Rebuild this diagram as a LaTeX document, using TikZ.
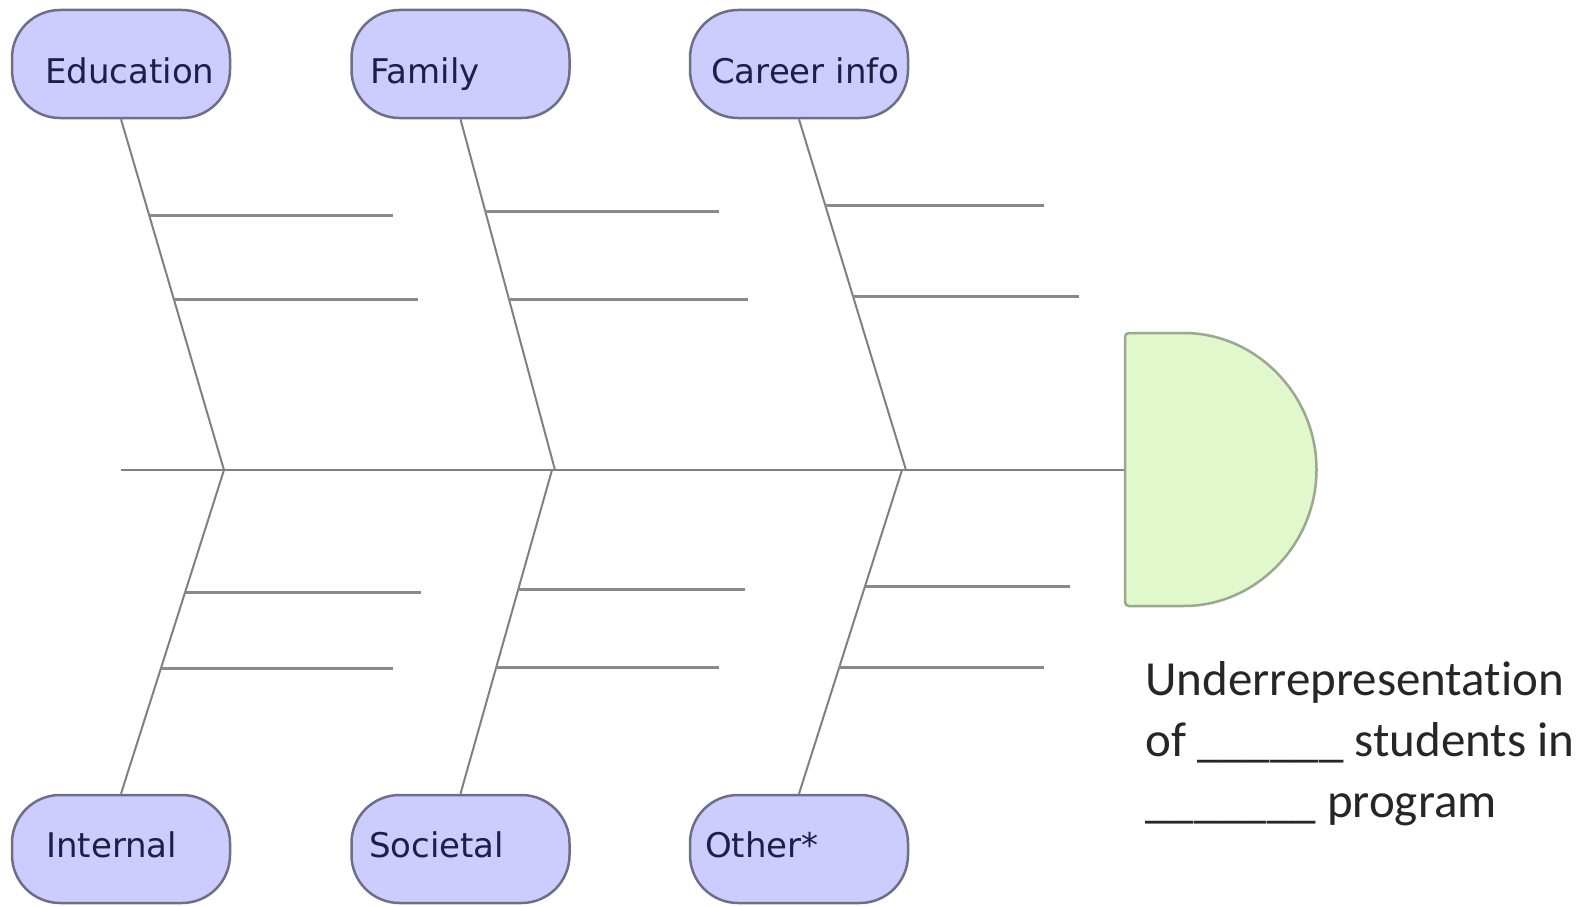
\documentclass[tikz,border=0pt]{standalone}
\usepackage{fontspec}
\setmainfont{DejaVu Sans}
\newfontfamily\effectfont[Ligatures=NoCommon]{Carlito}
\usetikzlibrary{calc}
\definecolor{boxfill}{HTML}{CCCCFF}
\definecolor{boxline}{HTML}{6E6E88}
\definecolor{boxtext}{HTML}{1E1E46}
\definecolor{headfill}{HTML}{E0F8CC}
\definecolor{headline}{HTML}{9AA890}
\definecolor{bonecol}{HTML}{808080}
\definecolor{ribcol}{HTML}{8A8A8A}
\tikzset{
  cause/.style={draw=boxline, line width=2.5pt, fill=boxfill, rectangle,
    rounded corners=48pt, minimum width=218pt, minimum height=108pt, inner sep=0pt},
  causetext/.style={anchor=base west, inner sep=0pt, text=boxtext,
    font=\fontsize{34}{40}\selectfont},
  bone/.style={draw=bonecol, line width=2pt},
  rib/.style={draw=ribcol, line width=3pt},
  spine/.style={draw=bonecol, line width=2.5pt},
  head/.style={draw=headline, line width=2.5pt, fill=headfill}
}
\begin{document}
\begin{tikzpicture}[x=1pt, y=-1pt]
\useasboundingbox (0,0) rectangle (1585,907);

% cause boxes
\node[cause] (edu) at (121,64) {};
\node[cause] (fam) at (460.5,64) {};
\node[cause] (car) at (799,64) {};
\node[cause] (int) at (121,849) {};
\node[cause] (soc) at (460.5,849) {};
\node[cause] (oth) at (799,849) {};

\node[causetext] (edut) at (45,83) {Education};
\node[causetext] (famt) at (370,83) {Family};
\node[causetext] (cart) at (711,83) {Career info};
\node[causetext] (intt) at (46,857) {Internal};
\node[causetext] (soct) at (369,857) {Societal};
\node[causetext] (otht) at (705,857) {Other*};

% spine and effect head
\coordinate (tail) at (121,470);
\coordinate (headL) at (1125,470);
\coordinate (j1) at (224,470);
\coordinate (j2) at (555,470);
\coordinate (j3) at (906,470);
\coordinate (k1) at (224,470);
\coordinate (k2) at (552,470);
\coordinate (k3) at (902,470);

\draw[spine] (tail) -- (headL);
\draw[head, rounded corners=4pt] (headL) -- (1125,333) -- (1180,333)
  arc[start angle=-90, end angle=90, radius=136.5] -- (1125,606) -- cycle;

% main bones
\draw[bone] (edu.south) -- (j1);
\draw[bone] (fam.south) -- (j2);
\draw[bone] (car.south) -- (j3);
\draw[bone] (int.north) -- (k1);
\draw[bone] (soc.north) -- (k2);
\draw[bone] (oth.north) -- (k3);

% sub-cause ribs
\coordinate (e1) at ($(edu.south)!0.273!(j1)$);
\coordinate (e2) at ($(edu.south)!0.514!(j1)$);
\coordinate (f1) at ($(fam.south)!0.264!(j2)$);
\coordinate (f2) at ($(fam.south)!0.514!(j2)$);
\coordinate (c1) at ($(car.south)!0.247!(j3)$);
\coordinate (c2) at ($(car.south)!0.506!(j3)$);
\coordinate (i1) at ($(k1)!0.378!(int.north)$);
\coordinate (i2) at ($(k1)!0.612!(int.north)$);
\coordinate (s1) at ($(k2)!0.369!(soc.north)$);
\coordinate (s2) at ($(k2)!0.609!(soc.north)$);
\coordinate (o1) at ($(k3)!0.360!(oth.north)$);
\coordinate (o2) at ($(k3)!0.609!(oth.north)$);

\draw[rib] (e1) -- (e1 -| 393,0);
\draw[rib] (e2) -- (e2 -| 418,0);
\draw[rib] (f1) -- (f1 -| 719,0);
\draw[rib] (f2) -- (f2 -| 748,0);
\draw[rib] (c1) -- (c1 -| 1044,0);
\draw[rib] (c2) -- (c2 -| 1079,0);
\draw[rib] (i1) -- (i1 -| 421,0);
\draw[rib] (i2) -- (i2 -| 393,0);
\draw[rib] (s1) -- (s1 -| 745,0);
\draw[rib] (s2) -- (s2 -| 719,0);
\draw[rib] (o1) -- (o1 -| 1070,0);
\draw[rib] (o2) -- (o2 -| 1044,0);

% effect statement (base anchor sits on the last line)
\node[anchor=base west, inner sep=0pt, align=left, text=black!85,
  font=\effectfont\fontsize{49}{61}\selectfont] (effect) at (1145,817)
  {Underrepresentation\\of \_\_\_\_\_\_ students in\\\_\_\_\_\_\_\_ program};
\end{tikzpicture}
\end{document}
